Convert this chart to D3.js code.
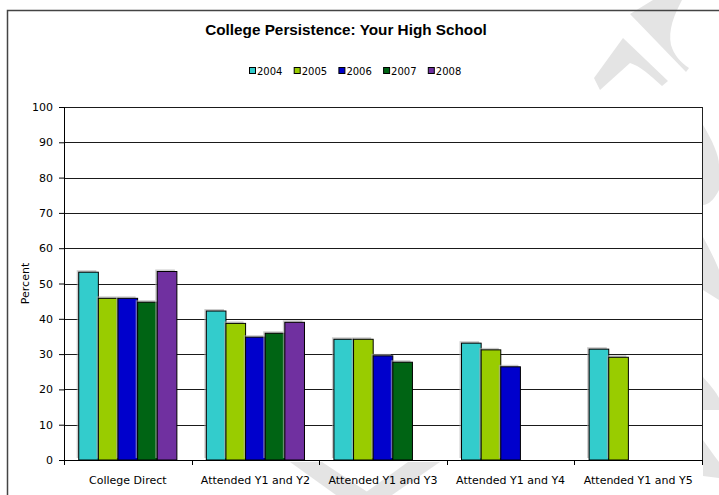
<!DOCTYPE html>
<html>
<head>
<meta charset="utf-8">
<script src="https://cdn.jsdelivr.net/npm/d3@7"></script>
<style>
  body { margin: 0; background: #fff; }
  text { font-family: "DejaVu Sans", sans-serif; fill: #000; }
</style>
</head>
<body>
<div id="chart"></div>
<script>
// chart data
var categories = ["College Direct", "Attended Y1 and Y2", "Attended Y1 and Y3", "Attended Y1 and Y4", "Attended Y1 and Y5"];
var years = ["2004", "2005", "2006", "2007", "2008"];
var s2004 = [53.2, 42.2, 34.2, 33.1, 31.4];
var s2005 = [45.8, 38.7, 34.2, 31.2, 29.1];
var s2006 = [45.8, 34.8, 29.5, 26.4, null];
var s2007 = [44.7, 35.9, 27.7, null, null];
var s2008 = [53.4, 39.0, null, null, null];
var yTicks = [0, 10, 20, 30, 40, 50, 60, 70, 80, 90, 100];
var colors = ["#33CCCC", "#99CC00", "#0000CC", "#006414", "#7030A0"];

var series = [s2004, s2005, s2006, s2007, s2008];

var width = 719, height = 495;
var svg = d3.select("#chart").append("svg").attr("width", width).attr("height", height);

// faint watermark behind the chart
var wm = svg.append("g").attr("fill", "#e4e4e4");
wm.append("path").attr("d", "M653,0 L682,0 C674,15 668,30 671,45 C674,55 680,62 689,68 L686,72 L630,14 Z");
wm.append("path").attr("d", "M623,38 L668,81 L662,86 C650,75 640,66 630,63 L600,90 L594,78 Z");
wm.append("path").attr("d", "M703,125 C712,140 719,155 719,165 L719,190 C714,200 708,205 703,205 Z");
wm.append("path").attr("d", "M703,237 C710,250 716,262 719,270 L719,300 L703,290 Z");
wm.append("path").attr("d", "M703,377 C710,385 716,392 719,398 L719,410 L703,410 Z");
wm.append("path").attr("d", "M703,440 C710,450 716,458 719,462 L719,478 L703,476 Z");
wm.append("path").attr("d", "M290,462 L322,462 L372,495 L336,495 Z");
wm.append("path").attr("d", "M408,462 L440,462 L392,495 L362,495 Z");

// outer chart border
svg.append("path")
    .attr("d", "M7.5,495 L7.5,10.5 L719,10.5")
    .attr("fill", "none")
    .attr("stroke", "#444")
    .attr("stroke-width", 1.5);

var plot = { left: 64, right: 702, top: 107, bottom: 460 };

var x0 = d3.scaleBand().domain(categories).range([plot.left, plot.right]).padding(0);
var x1 = d3.scaleBand().domain(years).range([0, x0.bandwidth()]).paddingInner(0).paddingOuter(0.75);
var y = d3.scaleLinear().domain([0, 100]).range([plot.bottom, plot.top]);

// plot area
svg.append("rect")
    .attr("x", plot.left).attr("y", plot.top)
    .attr("width", plot.right - plot.left).attr("height", plot.bottom - plot.top)
    .attr("fill", "#fff");

// gridlines
svg.append("g").selectAll("line")
    .data(yTicks.filter(function (d) { return d > 0; }))
    .enter()
    .append("line")
    .attr("x1", plot.left).attr("x2", plot.right)
    .attr("y1", function (d) { return Math.round(y(d)) + 0.5; })
    .attr("y2", function (d) { return Math.round(y(d)) + 0.5; })
    .attr("stroke", "#1a1a1a");

// right border of plot
svg.append("line")
    .attr("x1", plot.right + 0.5).attr("x2", plot.right + 0.5)
    .attr("y1", plot.top).attr("y2", plot.bottom)
    .attr("stroke", "#222");

// bars
var groups = svg.append("g").selectAll("g")
    .data(series)
    .enter()
    .append("g");

groups.each(function (vals, si) {
    var g = d3.select(this);
    var pts = vals.map(function (v, i) { return { v: v, cat: categories[i] }; })
        .filter(function (d) { return d.v !== null; });
    // slight shadow
    g.selectAll("rect.shadow")
        .data(pts)
        .enter()
        .append("rect")
        .attr("class", "shadow")
        .attr("x", function (d) { return x0(d.cat) + x1(years[si]) - 2; })
        .attr("y", function (d) { return y(d.v) - 2; })
        .attr("width", x1.bandwidth())
        .attr("height", function (d) { return plot.bottom - y(d.v); })
        .attr("fill", "#aaa")
        .attr("opacity", 0.6);
    g.selectAll("rect.bar")
        .data(pts)
        .enter()
        .append("rect")
        .attr("class", "bar")
        .attr("x", function (d) { return x0(d.cat) + x1(years[si]); })
        .attr("y", function (d) { return y(d.v); })
        .attr("width", x1.bandwidth())
        .attr("height", function (d) { return plot.bottom - y(d.v); })
        .attr("fill", colors[si])
        .attr("stroke", "#000")
        .attr("stroke-width", 1);
});

// axes
var y_axis = d3.axisLeft(y).tickValues(yTicks).tickSize(5).tickPadding(6);
var yg = svg.append("g")
    .attr("transform", "translate(" + plot.left + ",0)")
    .call(y_axis);
yg.select(".domain").attr("stroke", "#000");
yg.selectAll("text").style("font-size", "11px").style("font-family", "DejaVu Sans");

var x_axis = d3.axisBottom(x0).tickSize(0).tickPadding(16);
var xg = svg.append("g")
    .attr("transform", "translate(0," + plot.bottom + ")")
    .call(x_axis);
xg.select(".domain").attr("stroke", "#000");
xg.selectAll("text").style("font-size", "11px").style("font-family", "DejaVu Sans");

// category boundary ticks
var bounds = categories.map(function (c) { return x0(c); }).concat([plot.right]);
svg.append("g").selectAll("line")
    .data(bounds)
    .enter()
    .append("line")
    .attr("x1", function (d) { return Math.round(d) + 0.5; })
    .attr("x2", function (d) { return Math.round(d) + 0.5; })
    .attr("y1", plot.bottom).attr("y2", plot.bottom + 5)
    .attr("stroke", "#000");

// title
svg.append("text")
    .attr("x", 346).attr("y", 35)
    .attr("text-anchor", "middle")
    .style("font-family", "Liberation Sans")
    .style("font-weight", "bold")
    .style("font-size", "15.3px")
    .text("College Persistence: Your High School");

// legend
var legend = svg.append("g").selectAll("g")
    .data(years)
    .enter()
    .append("g")
    .attr("transform", function (d, i) { return "translate(" + (249 + i * 44.7) + ",67)"; });
legend.append("rect")
    .attr("width", 6).attr("height", 6)
    .attr("x", 0.5).attr("y", 0.5)
    .attr("fill", function (d, i) { return colors[i]; })
    .attr("stroke", "#000");
legend.append("text")
    .attr("x", 8).attr("y", 8)
    .style("font-size", "10px")
    .text(function (d) { return d; });

// y label
svg.append("text")
    .attr("transform", "translate(29," + ((plot.top + plot.bottom) / 2) + ") rotate(-90)")
    .attr("text-anchor", "middle")
    .style("font-size", "11px")
    .text("Percent");
</script>
</body>
</html>
